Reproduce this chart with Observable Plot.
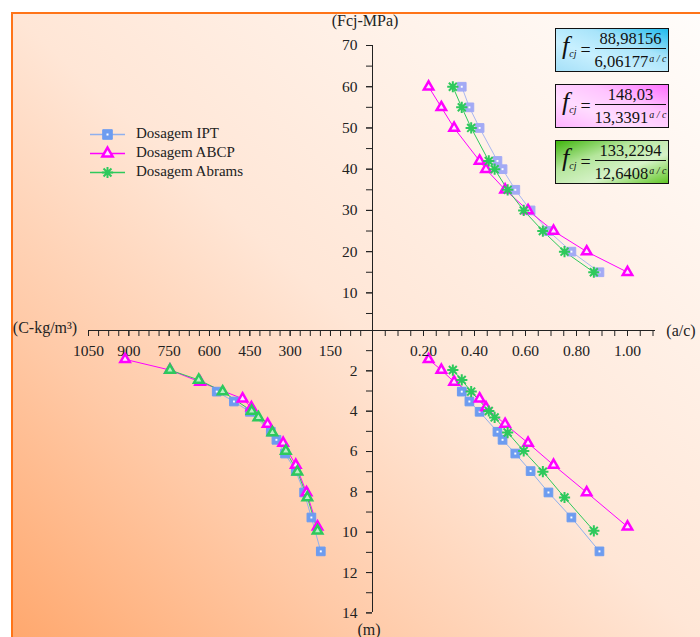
<!DOCTYPE html>
<html><head><meta charset="utf-8">
<script src="https://cdn.jsdelivr.net/npm/d3@7"></script>
<script src="https://cdn.jsdelivr.net/npm/@observablehq/plot@0.6"></script>
<style>
body{margin:0;background:#fff;}
#wrap{position:relative;width:700px;height:637px;overflow:hidden;font-family:"Liberation Serif","DejaVu Serif",serif;color:#222;}
#bg{position:absolute;left:11px;top:12px;right:0;bottom:0;border-top:2px solid #ff7418;border-left:2px solid #ff7418;background:linear-gradient(to top right,#ffa86e 0%,#ffc9a6 25%,#ffe6d6 50%,#fffdfb 100%);}
.layer{position:absolute;left:0;top:0;}
.lbl{position:absolute;font-size:16px;white-space:nowrap;transform:translate(-50%,-50%);}
.eq{position:absolute;width:112px;height:42px;border:1px solid #111;display:flex;align-items:center;font-family:"Liberation Serif",serif;color:#111;}
.eq .f{font-style:italic;font-size:26px;margin-left:6px;line-height:24px;}
.eq .f sub{font-size:10px;font-style:italic;vertical-align:-3px;}
.eq .eqs{font-size:18px;margin:0 4px 0 4px;}
.eq .frac{display:flex;flex-direction:column;align-items:center;}
.eq .num{font-size:16.5px;line-height:18px;}
.eq .bar{align-self:stretch;height:1px;background:#111;}
.eq .den{font-size:16.5px;line-height:19px;}
.eq .den sup{font-size:10px;font-style:italic;vertical-align:5px;margin-left:1px;}
.leg{position:absolute;font-size:15px;white-space:nowrap;}
</style></head><body>
<div id="wrap"><div id="bg"></div></div>
<script>
// ---------- data ----------
const seriesNames = ["Dosagem IPT", "Dosagem ABCP", "Dosagem Abrams"];
const fcj = [60, 55, 50, 42, 40, 35, 30, 25, 20, 15];

const acIPT = [0.35, 0.38, 0.42, 0.49, 0.51, 0.56, 0.62, 0.69, 0.78, 0.89];
const mIPT = [3.03, 3.52, 4.03, 5.02, 5.42, 6.10, 6.97, 8.03, 9.27, 10.95];
const cIPT = [573, 509, 450, 372, 351, 319, 279, 248, 221, 186];

const acABCP = [0.22, 0.27, 0.32, 0.42, 0.445, 0.52, 0.61, 0.71, 0.84, 1.00];
const mABCP = [1.43, 1.96, 2.55, 3.38, 3.82, 4.64, 5.58, 6.67, 8.03, 9.73];
const cABCP = [914, 747, 635, 477, 444, 384, 326, 279, 239, 198];

const acAbrams = [0.315, 0.35, 0.387, 0.456, 0.479, 0.53, 0.593, 0.668, 0.753, 0.868];
const mAbrams = [1.96, 2.45, 3.03, 3.99, 4.31, 5.06, 5.97, 7.00, 8.28, 9.93];
const cAbrams = [747, 640, 551, 443, 418, 366, 316, 273, 236, 198];

const fcjTicks = [10, 20, 30, 40, 50, 60, 70];
const acTicks = [0.2, 0.4, 0.6, 0.8, 1.0];
const cTicks = [150, 300, 450, 600, 750, 900, 1050];
const mTicks = [2, 4, 6, 8, 10, 12, 14];

const eqNumerators = ["88,98156", "148,03", "133,2294"];
const eqDenominators = ["6,06177", "13,3391", "12,6408"];

// ---------- build ----------
const acAll = [acIPT, acABCP, acAbrams], mAll = [mIPT, mABCP, mAbrams], cAll = [cIPT, cABCP, cAbrams];
const rows = seriesNames.map((s, k) => fcj.map((f, i) => ({s, f, ac: acAll[k][i], m: mAll[k][i], c: cAll[k][i]})));
const [ipt, abcp, abrams] = rows;

const star8 = {draw(ctx, size) {
  const r = Math.sqrt(size / Math.PI);
  for (let k = 0; k < 4; k++) {
    const a = k * Math.PI / 4;
    ctx.moveTo(r * Math.cos(a), r * Math.sin(a));
    ctx.lineTo(-r * Math.cos(a), -r * Math.sin(a));
  }
}};

const COL = {ipt: "#6d9cf0", iptTop: "#a3aaf5", iptLine: "#8fb0ee", iptLineTop: "#a9b6f2", abcp: "#ff00ff", abr: "#2ec95c"};
const W = 700, H = 637;
const xAC = {domain: [0, 1.1], range: [372, 652.5]};
const yF = {domain: [0, 70], range: [333.6, 45]};
const yM = {domain: [0, 14], range: [330, 612.4]};
const xC = {domain: [0, 1050], range: [370.3, 88]};
const baseStyle = "background:transparent;font-family:'Liberation Serif','DejaVu Serif',serif;font-size:15.5px;color:#222;overflow:visible;";
const none = () => "";
const SQ = 4.9, TR = 3.5, ST = 5.6;

function squares(data, x, y, color) {
  return [
    Plot.dot(data, {x, y, symbol: "square", r: SQ, fill: color, stroke: color, strokeWidth: 1}),
    Plot.dot(data, {x, y, symbol: "square", r: 1.1, fill: "white"})
  ];
}
function triangles(data, x, y, stroke, fill) {
  return Plot.dot(data, {x, y, symbol: "triangle", r: TR, fill, stroke, strokeWidth: 2.5});
}
function stars(data, x, y) {
  return Plot.dot(data, {x, y, symbol: star8, r: ST, fill: "none", stroke: COL.abr, strokeWidth: 2});
}

// Top-right: a/c vs fcj
const pA = Plot.plot({
  width: W, height: H, marginLeft: 372, marginRight: 45, marginTop: 45, marginBottom: 307,
  x: xAC, y: yF, style: baseStyle,
  marks: [
    Plot.ruleX([0], {stroke: "#222"}),
    Plot.axisX({anchor: "bottom", ticks: d3.range(1, 23).map(i => i * 0.05), tickSize: 6, tickFormat: none, label: null}),
    Plot.axisX({anchor: "bottom", ticks: acTicks, tickSize: 6, tickPadding: 8, tickFormat: d3.format(".2f"), label: null}),
    Plot.axisY({anchor: "left", ticks: d3.range(1, 15).map(i => i * 5), tickSize: 6, tickFormat: none, label: null}),
    Plot.axisY({anchor: "left", ticks: fcjTicks, tickSize: 6, tickPadding: 9, label: null}),
    Plot.line(ipt, {x: "ac", y: "f", stroke: COL.iptLineTop, strokeWidth: 1}),
    Plot.line(abcp, {x: "ac", y: "f", stroke: COL.abcp, strokeWidth: 1}),
    Plot.line(abrams, {x: "ac", y: "f", stroke: COL.abr, strokeWidth: 1}),
    ...squares(ipt, "ac", "f", COL.iptTop),
    triangles(abcp, "ac", "f", COL.abcp, "#ffe4ff"),
    stars(abrams, "ac", "f")
  ]
});

// Bottom-right: a/c vs m
const pB = Plot.plot({
  width: W, height: H, marginLeft: 372, marginRight: 45, marginTop: 330, marginBottom: 25,
  x: {...xAC, axis: null}, y: yM, style: baseStyle,
  marks: [
    Plot.ruleY([0], {stroke: "#222"}),
    Plot.ruleX([0], {stroke: "#222"}),
    Plot.axisY({anchor: "left", ticks: d3.range(1, 15), tickSize: 6, tickFormat: none, label: null}),
    Plot.axisY({anchor: "left", ticks: mTicks, tickSize: 6, tickPadding: 9, label: null}),
    Plot.line(ipt, {x: "ac", y: "m", stroke: COL.iptLine, strokeWidth: 1}),
    Plot.line(abcp, {x: "ac", y: "m", stroke: COL.abcp, strokeWidth: 1}),
    Plot.line(abrams, {x: "ac", y: "m", stroke: COL.abr, strokeWidth: 1}),
    ...squares(ipt, "ac", "m", COL.ipt),
    triangles(abcp, "ac", "m", COL.abcp, "#ffe4ff"),
    stars(abrams, "ac", "m")
  ]
});

// Bottom-left: C vs m
const pC = Plot.plot({
  width: W, height: H, marginLeft: 88, marginRight: 328, marginTop: 45, marginBottom: 307,
  x: xC, y: {...yM, axis: null}, style: baseStyle,
  marks: [
    Plot.ruleY([0], {stroke: "#222"}),
    Plot.axisX({anchor: "bottom", ticks: d3.range(1, 29).map(i => i * 37.5), tickSize: 6, tickFormat: none, label: null}),
    Plot.axisX({anchor: "bottom", ticks: cTicks, tickSize: 6, tickPadding: 8, tickFormat: d3.format("d"), label: null}),
    Plot.line(ipt, {x: "c", y: "m", stroke: COL.iptLine, strokeWidth: 1}),
    Plot.line(abcp, {x: "c", y: "m", stroke: COL.abcp, strokeWidth: 1}),
    Plot.line(abrams, {x: "c", y: "m", stroke: COL.abr, strokeWidth: 1}),
    ...squares(ipt, "c", "m", COL.ipt),
    triangles(abcp, "c", "m", COL.abcp, "#ffe4ff"),
    triangles(abrams, "c", "m", COL.abr, "#bdeec5")
  ]
});

const wrap = document.getElementById("wrap");
for (const p of [pC, pB, pA]) { p.classList.add("layer"); wrap.appendChild(p); }

// Axis titles
const titles = [["(Fcj-MPa)", 365, 21], ["(C-kg/m³)", 45, 328], ["(a/c)", 681, 331], ["(m)", 369, 630]];
for (const [t, x, y] of titles) {
  const d = document.createElement("div");
  d.className = "lbl"; d.textContent = t; d.style.left = x + "px"; d.style.top = y + "px";
  wrap.appendChild(d);
}

// Equation boxes
const eqBg = [
  "linear-gradient(to bottom left,#1fbbee 0%,#a8e4fa 35%,#c8f0ff 65%,#a6e0f8 100%)",
  "linear-gradient(to bottom left,#ff70ff 0%,#ffc4ff 35%,#ffdcff 65%,#ffb4ff 100%)",
  "linear-gradient(to bottom right,#3fb50c 0%,#b5e69c 35%,#d6f2c8 65%,#62c626 100%)"
];
const eqTop = [28, 84, 140];
eqNumerators.forEach((n, i) => {
  const d = document.createElement("div");
  d.className = "eq";
  d.style.left = "555px"; d.style.top = eqTop[i] + "px"; d.style.background = eqBg[i];
  d.innerHTML = `<span class="f">f<sub>cj</sub></span><span class="eqs">=</span>` +
    `<span class="frac"><span class="num">${n}</span><span class="bar"></span><span class="den">${eqDenominators[i]}<sup>a / c</sup></span></span>`;
  wrap.appendChild(d);
});

// Legend
const legSpecs = [
  {line: COL.iptLine, sym: d3.symbolSquare, fill: COL.ipt, stroke: COL.ipt, sw: 1, inner: true, r: SQ + 0.5},
  {line: COL.abcp, sym: d3.symbolTriangle, fill: "#ffe4ff", stroke: COL.abcp, sw: 2.5, r: TR + 0.3},
  {line: COL.abr, sym: star8, fill: "none", stroke: COL.abr, sw: 2, r: ST}
];
const legY = [134, 153, 172];
seriesNames.forEach((name, i) => {
  const sp = legSpecs[i];
  const svg = d3.create("svg").attr("width", 40).attr("height", 16)
    .style("position", "absolute").style("left", "88px").style("top", (legY[i] - 8) + "px").style("overflow", "visible");
  svg.append("line").attr("x1", 2).attr("x2", 37).attr("y1", 8.5).attr("y2", 8.5).attr("stroke", sp.line).attr("stroke-width", 1.5);
  svg.append("path").attr("transform", "translate(19.5,8.5)").attr("d", d3.symbol(sp.sym, sp.r * sp.r * Math.PI)())
    .attr("fill", sp.fill).attr("stroke", sp.stroke).attr("stroke-width", sp.sw);
  if (sp.inner) svg.append("rect").attr("x", 18.5).attr("y", 7.5).attr("width", 2).attr("height", 2).attr("fill", "white");
  wrap.appendChild(svg.node());
  const t = document.createElement("div");
  t.className = "leg"; t.textContent = name;
  t.style.left = "136px"; t.style.top = (legY[i] - 9) + "px";
  wrap.appendChild(t);
});
</script>
</body></html>
